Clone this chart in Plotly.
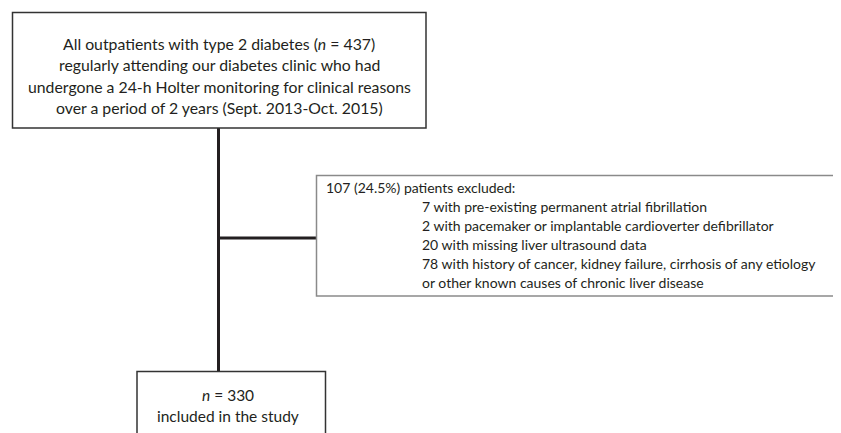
import plotly.graph_objects as go

# ---- data ----
n_total = 437
n_excluded = 107
pct_excluded = 24.5
exclusion_counts = [7, 2, 20, 78]
exclusion_reasons = [
    "with pre-existing permanent atrial fibrillation",
    "with pacemaker or implantable cardioverter defibrillator",
    "with missing liver ultrasound data",
    "with history of cancer, kidney failure, cirrhosis of any etiology",
]
exclusion_extra = "or other known causes of chronic liver disease"
n_included = 330

top_lines = [
    f"All outpatients with type 2 diabetes (<i>n</i> = {n_total})",
    "regularly attending our diabetes clinic who had",
    "undergone a 24-h Holter monitoring for clinical reasons",
    "over a period of 2 years (Sept. 2013-Oct. 2015)",
]
right_header = f"{n_excluded} ({pct_excluded}%) patients excluded:"
right_lines = [f"{c} {r}" for c, r in zip(exclusion_counts, exclusion_reasons)] + [exclusion_extra]
bottom_lines = [f"<i>n</i> = {n_included}", "included in the study"]

W, H = 841, 433
OFF = 8  # default page body margin
FONT = "Lato"
TXT = "#231f20"

fig = go.Figure()
shapes = []
# connectors
shapes.append(dict(type="line", x0=218.5, x1=218.5, y0=128, y1=371, line=dict(color=TXT, width=3)))
shapes.append(dict(type="line", x0=218.5, x1=316, y0=238, y1=238, line=dict(color=TXT, width=3)))
# boxes
shapes.append(dict(type="rect", x0=12.5, x1=426, y0=12.5, y1=128, line=dict(color="#333333", width=1.5), fillcolor="white"))
shapes.append(dict(type="rect", x0=316.5, x1=870, y0=175.5, y1=296, line=dict(color="#8a8a8a", width=1.5), fillcolor="white"))
shapes.append(dict(type="rect", x0=137, x1=325.5, y0=371.5, y1=470, line=dict(color="#333333", width=1.5), fillcolor="white"))

ann = []
top_y = [43, 64.5, 86, 107]
for t, y in zip(top_lines, top_y):
    ann.append(dict(x=219, y=y, text=t, xanchor="center", yanchor="middle", showarrow=False,
                    font=dict(family=FONT, size=15.8, color=TXT)))
right_y = [187, 206, 225, 244, 263, 282]
ann.append(dict(x=324, y=right_y[0], text=right_header, xanchor="left", yanchor="middle", showarrow=False,
                font=dict(family=FONT, size=14, color=TXT)))
for t, y in zip(right_lines, right_y[1:]):
    ann.append(dict(x=420, y=y, text=t, xanchor="left", yanchor="middle", showarrow=False,
                    font=dict(family=FONT, size=14, color=TXT)))
for t, y in zip(bottom_lines, [395, 416]):
    ann.append(dict(x=228, y=y, text=t, xanchor="center", yanchor="middle", showarrow=False,
                    font=dict(family=FONT, size=15.5, color=TXT)))

fig.update_layout(
    width=W, height=H, margin=dict(l=0, r=0, t=0, b=0),
    paper_bgcolor="white", plot_bgcolor="white",
    xaxis=dict(range=[OFF, W + OFF], visible=False, fixedrange=True),
    yaxis=dict(range=[H + OFF, OFF], visible=False, fixedrange=True),
    shapes=shapes, annotations=ann, showlegend=False,
)
fig.write_html("out.html", config={"displayModeBar": False})
